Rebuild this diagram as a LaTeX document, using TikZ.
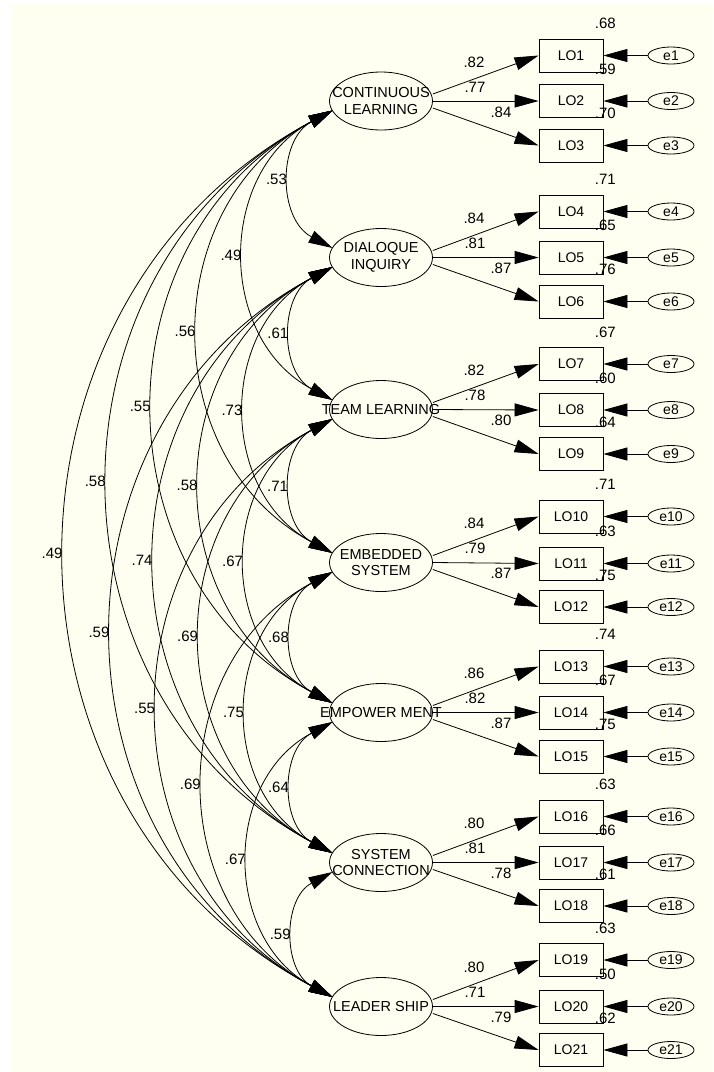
\documentclass[tikz,border=0pt]{standalone}
\usepackage{fontspec}
\setmainfont{Liberation Sans}
\usetikzlibrary{arrows.meta,shapes.geometric,calc}
\definecolor{ivory}{RGB}{254,255,240}
\tikzset{
 lat/.style={ellipse, draw, fill=ivory, minimum width=103pt, minimum height=58pt, inner sep=0pt, line width=0.8pt},
 lattext/.style={align=center, inner sep=0pt, font=\fontsize{14.5}{16.5}\selectfont},
 obs/.style={rectangle, draw, fill=ivory, minimum width=64pt, minimum height=33pt, inner sep=0pt, line width=0.8pt, font=\fontsize{14}{16}\selectfont},
 err/.style={ellipse, draw, fill=ivory, minimum width=46pt, minimum height=17pt, inner sep=0pt, line width=0.8pt},
 etext/.style={inner sep=0pt, font=\fontsize{14}{16}\selectfont},
 lbl/.style={inner sep=0pt, font=\fontsize{15}{17}\selectfont},
 arr/.style={-{Triangle[length=24pt,width=13pt]}, line width=0.8pt},
 cov/.style={{Triangle[length=24pt,width=13pt]}-{Triangle[length=24pt,width=13pt]}, line width=0.8pt, bend right=62, looseness=1.16},
}
\begin{document}
\begin{tikzpicture}[x=1pt,y=1pt]
\useasboundingbox (0,0) rectangle (713,-1072);
\fill[ivory] (11,-4) rectangle (713,-1072);
% latent variables
\foreach \n/\yy/\t in {CL/101/{CONTINUOUS\\LEARNING}, DI/257.5/{DIALOQUE\\INQUIRY}, TL/409.5/{TEAM LEARNING}, ES/562.5/{EMBEDDED\\SYSTEM}, EM/712.5/{EMPOWER MENT}, SC/862.5/{SYSTEM\\CONNECTION}, LS/1006.5/{LEADER SHIP}}{
  \node[lat] (\n) at (381,-\yy) {};
  \node[lattext] (\n-t) at (\n) {\t};
  \coordinate (\n-dn) at ($(\n)+(-48.5,-9.5)$);
  \coordinate (\n-up) at ($(\n)+(-48.5,9.5)$);
}
% observed variables and errors
\foreach \i/\yy/\r in {1/55.5/.68, 2/101/.59, 3/145.5/.70, 4/211.5/.71, 5/257.5/.65, 6/301.5/.76, 7/364/.67, 8/410/.60, 9/454/.64, 10/516.5/.71, 11/563.5/.63, 12/607/.75, 13/666.5/.74, 14/712.5/.67, 15/756.5/.75, 16/816.5/.63, 17/862.5/.66, 18/906/.61, 19/960/.63, 20/1006.5/.50, 21/1050/.62}{
  \node[obs] (LO\i) at (571,-\yy) {LO\i};
  \node[err] (e\i) at (671,-\yy) {};
  \node[etext] (e\i-t) at (e\i) {e\i};
  \node[lbl] (r\i) at ($(LO\i.north east)+(2,15)$) {\r};
  \draw[arr] (e\i) -- (LO\i);
}
% loadings
\foreach \n/\p/\q/\s/\a/\b/\c in {CL/1/2/3/.82/.77/.84, DI/4/5/6/.84/.81/.87, TL/7/8/9/.82/.78/.80, ES/10/11/12/.84/.79/.87, EM/13/14/15/.86/.82/.87, SC/16/17/18/.80/.81/.78, LS/19/20/21/.80/.71/.79}{
  \draw[arr] ($(\n.east)+(0,7)$) -- (LO\p.west);
  \draw[arr] (\n.east) -- (LO\q.west);
  \draw[arr] ($(\n.east)+(0,-7)$) -- (LO\s.west);
  \node[lbl] (l\p) at ($(\n)+(93,39)$) {\a};
  \node[lbl] (l\q) at ($(\n)+(94,14)$) {\b};
  \node[lbl] (l\s) at ($(\n)+(120,-11)$) {\c};
}
% covariances
\foreach \a/\b/\v in {CL/DI/.53, CL/TL/.49, CL/ES/.56, CL/EM/.55, CL/SC/.58, CL/LS/.49, DI/TL/.61, DI/ES/.73, DI/EM/.58, DI/SC/.74, DI/LS/.59, TL/ES/.71, TL/EM/.67, TL/SC/.69, TL/LS/.55, ES/EM/.68, ES/SC/.75, ES/LS/.69, EM/SC/.64, EM/LS/.67, SC/LS/.59}{
  \draw[cov] (\a-dn) to node[lbl, midway, anchor=east, xshift=-4pt] (c\a\b) {\v} (\b-up);
}
\end{tikzpicture}
\end{document}
